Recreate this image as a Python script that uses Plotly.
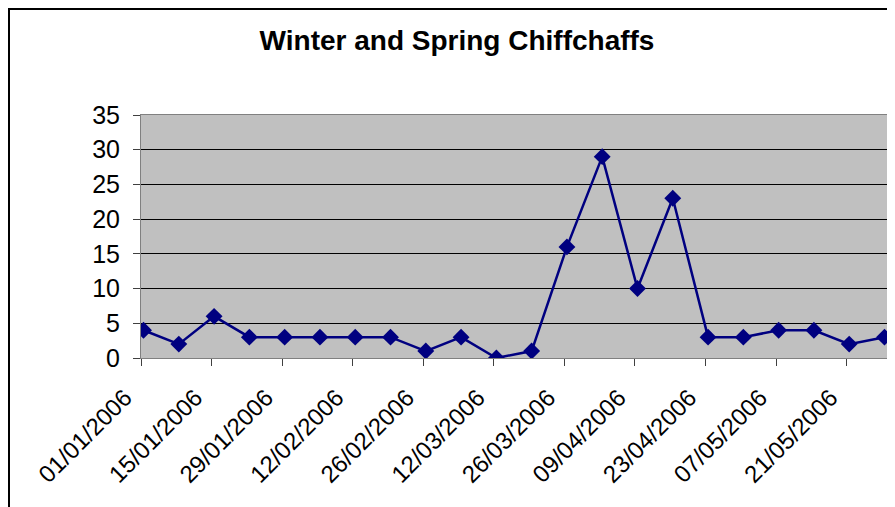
import plotly.graph_objects as go

dates = ["2006-01-01", "2006-01-08", "2006-01-15", "2006-01-22", "2006-01-29",
         "2006-02-05", "2006-02-12", "2006-02-19", "2006-02-26", "2006-03-05",
         "2006-03-12", "2006-03-19", "2006-03-26", "2006-04-02", "2006-04-09",
         "2006-04-16", "2006-04-23", "2006-04-30", "2006-05-07", "2006-05-14",
         "2006-05-21", "2006-05-28"]
counts = [4, 2, 6, 3, 3, 3, 3, 3, 1, 3, 0, 1, 16, 29, 10, 23, 3, 3, 4, 4, 2, 3]
title_text = "Winter and Spring Chiffchaffs"

DAY_MS = 86400000
OFF = 8  # default page body margin

fig = go.Figure()
fig.add_trace(go.Scatter(
    x=dates, y=counts, mode="lines+markers",
    xperiod=DAY_MS, xperiodalignment="middle",
    line=dict(color="#000080", width=2.5),
    marker=dict(symbol="diamond", size=13, color="#000080"),
    showlegend=False,
))

W, H = 895 - OFF, 507 - OFF
L, R, T, B = 141 - OFF, 8, 115 - OFF, 149
pw, ph = W - L - R, H - T - B

fig.update_layout(
    width=W, height=H,
    margin=dict(l=L, r=R, t=T, b=B, pad=0, autoexpand=False),
    paper_bgcolor="white",
    plot_bgcolor="#c0c0c0",
    font=dict(family="Liberation Sans, Arial, sans-serif", size=25, color="black"),
    title=dict(text="<b>" + title_text + "</b>", x=(457 - OFF) / W, xref="container", xanchor="center",
               y=1 - (40 - OFF) / H, yref="container", yanchor="middle",
               font=dict(size=28, color="black")),
    xaxis=dict(
        type="date",
        range=["2006-01-01", "2006-05-29"],
        tick0="2006-01-01", dtick=14 * DAY_MS,
        tickformat="%d/%m/%Y", tickangle=-45,
        ticks="outside", ticklen=7, tickcolor="#404040",
        ticklabelstandoff=8, ticklabelshift=-16,
        showgrid=False, zeroline=False,
        showline=True, linecolor="#808080", linewidth=1, mirror=True,
        tickfont=dict(size=24),
        automargin=False,
    ),
    yaxis=dict(
        range=[0, 35], dtick=5,
        ticks="outside", ticklen=7, tickcolor="#404040",
        ticklabelstandoff=8,
        showgrid=True, gridcolor="black", gridwidth=1,
        zeroline=False,
        showline=True, linecolor="#808080", linewidth=1, mirror=True,
        tickfont=dict(size=25),
        automargin=False,
    ),
)

# outer chart frame (cropped at right/bottom); page body margin limits how far left/up it can go
fig.add_shape(type="rect", xref="paper", yref="paper",
              x0=(1 - L) / pw, x1=(W + 20 - L) / pw,
              y0=(ph + T - H - 20) / ph, y1=(ph + T - 1) / ph,
              line=dict(color="black", width=2), fillcolor="rgba(0,0,0,0)", layer="below")

fig.write_html("out.html")
